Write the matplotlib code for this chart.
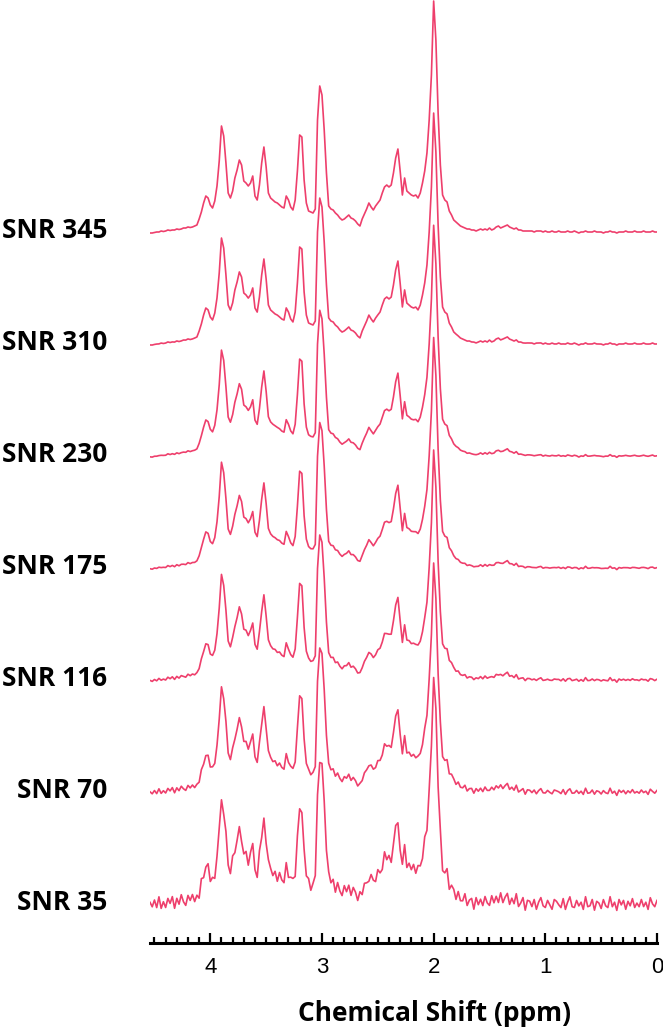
import numpy as np
import matplotlib.pyplot as plt
import matplotlib.transforms as mtransforms

# SNR of each trace, bottom to top
snr_labels = ['SNR 35', 'SNR 70', 'SNR 116', 'SNR 175', 'SNR 230', 'SNR 310', 'SNR 345']
snr_values = [35, 70, 116, 175, 230, 310, 345]

# reference spectrum (top trace), read every 0.02 ppm from 4.54 down to 0.00
spectrum = [
    0, 0, 0.5, 1, 1, 2, 1.5, 2, 3, 2.5, 3, 3, 4, 3.5, 4, 5, 5, 6, 5.5, 6,
    7, 8, 14, 21, 30, 37, 35, 28, 25, 32, 47, 72, 107, 97, 70, 40, 35, 42, 55, 63,
    73, 68, 52, 50, 47, 50, 57, 37, 33, 48, 70, 86, 66, 40, 35, 33, 31, 30, 28, 26,
    25, 37, 33, 26, 23, 33, 62, 98, 96, 53, 30, 22, 21, 20, 24, 113, 147, 138, 103, 60,
    27, 24, 23, 20, 18, 15, 13, 14, 16, 18, 15, 14, 12, 9, 7, 14, 19, 24, 30, 26,
    23, 27, 30, 33, 40, 46, 48, 46, 48, 60, 75, 84, 62, 38, 55, 42, 40, 38, 37, 38,
    35, 40, 50, 62, 80, 113, 158, 232, 193, 120, 68, 38, 33, 31, 22, 18, 13, 11, 9, 7,
    6, 5, 4, 4, 3, 3, 2, 3, 4, 3, 4, 3, 5, 3, 4, 6, 7, 5, 6, 7,
    8, 6, 5, 4, 5, 3, 3, 2, 2, 2, 2, 2, 1, 2, 2, 2, 1, 2, 1, 1,
    2, 1, 1, 2, 1, 1, 1, 2, 1, 1, 2, 1, 0, 1, 1, 2, 1, 1, 1, 2,
    1, 1, 1, 0, 1, 1, 2, 1, 1, 0, 1, 1, 1, 2, 1, 1, 1, 2, 1, 1,
    1, 2, 1, 1, 1, 2, 1, 1,
]

# deviations of the SNR 35 trace from the reference spectrum
noise_35 = [
    3, -2, 5, -4, 8, -6, 2, -5, 4, -1, 6, -7, 3, -3, 7, -2, -6, 4, -1, 5,
    -4, 2, -8, 6, -3, 1, 7, -5, 3, -6, 2, 5, -2, -7, 4, 0, -4, 8, -3, 2,
    6, -5, -1, 4, -8, 3, 5, -2, -6, 7, -3, 1, -5, 6, 2, -4, 3, -7, 5, -1,
    -3, 6, -6, 2, 4, -5, 8, -2, -4, 3, -1, 5, -7, 2, 6, -3, -5, 4, 1, -6,
    7, -2, 3, -8, 5, -1, -4, 6, -3, 2, -6, 4, 1, -5, 7, -4, 3, -2, -7, 5,
    2, -4, 6, -1, -5, 8, -3, 4, -6, 1, 5, -2, -8, 3, 6, -5, 2, -3, 4, -7,
    5, -1, -4, 7, -6, 3, 1, -5, 4, -2, 8, -4, -1, 6, -7, 2, 3, -6, 5, -3,
    -2, 7, -5, 1, 4, -8, 6, -3, 2, -4, 5, -1, -6, 7, -2, 3, -5, 8, -4, 1,
    4, -6, 2, -3, 7, -5, -1, 6, -8, 3, 2, -4, 5, -7, 1, 6, -2, -5, 4, -1,
    -7, 5, 3, -2, -4, 6, -6, 1, 8, -3, -5, 4, -1, 2, -6, 7, -3, -2, 5, -8,
    3, 1, -5, 6, -2, -4, 7, -3, 2, -6, 5, -1, 4, -7, 3, -2, 6, -5, 1, -3,
    5, -4, 2, -6, 7, -1, -3, 4,
]

ppm = np.linspace(4.54, 0.0, len(spectrum))
spectrum = np.array(spectrum, dtype=float)
noise_35 = np.array(noise_35, dtype=float)

color = '#EE3F6C'
fig = plt.figure(figsize=(6.63, 10.29), dpi=100)
ax = fig.add_axes([150 / 663, 1 - 943 / 1029, 507 / 663, 943 / 1029])

first_base = 38
step = 112
for i, snr in enumerate(snr_values):
    extra = 35 / snr - 35 / snr_values[-1]
    y = spectrum + noise_35 * extra + first_base + i * step
    ax.plot(ppm, y, color=color, lw=1.2)

ax.set_xlim(4.54, 0)
ax.set_ylim(0, 943)

for s in ['top', 'left', 'right']:
    ax.spines[s].set_visible(False)
ax.spines['bottom'].set_linewidth(2.2)
ax.set_yticks([])
ax.set_xticks([4, 3, 2, 1, 0])
ax.set_xticks(np.arange(0, 4.55, 0.1), minor=True)
ax.tick_params(axis='x', which='major', direction='in', length=7, width=1.6,
               pad=10, labelsize=16)
ax.tick_params(axis='x', which='minor', direction='in', length=4, width=1.6)
for t in ax.get_xticklabels():
    t.set_fontfamily('Liberation Sans')

ax.set_xlabel('Chemical Shift (ppm)', fontsize=19, fontweight='bold',
              fontfamily='Open Sans', labelpad=16)
ax.xaxis.label.set_x((435 - 150) / 507)

trans = mtransforms.blended_transform_factory(fig.transFigure, ax.transData)
for i, lab in enumerate(snr_labels):
    ax.text(107 / 663, first_base + i * step + 2, lab, transform=trans,
            ha='right', va='center', fontsize=19, fontweight='bold',
            fontfamily='Open Sans', clip_on=False)

fig.savefig('out.png', dpi=100)
